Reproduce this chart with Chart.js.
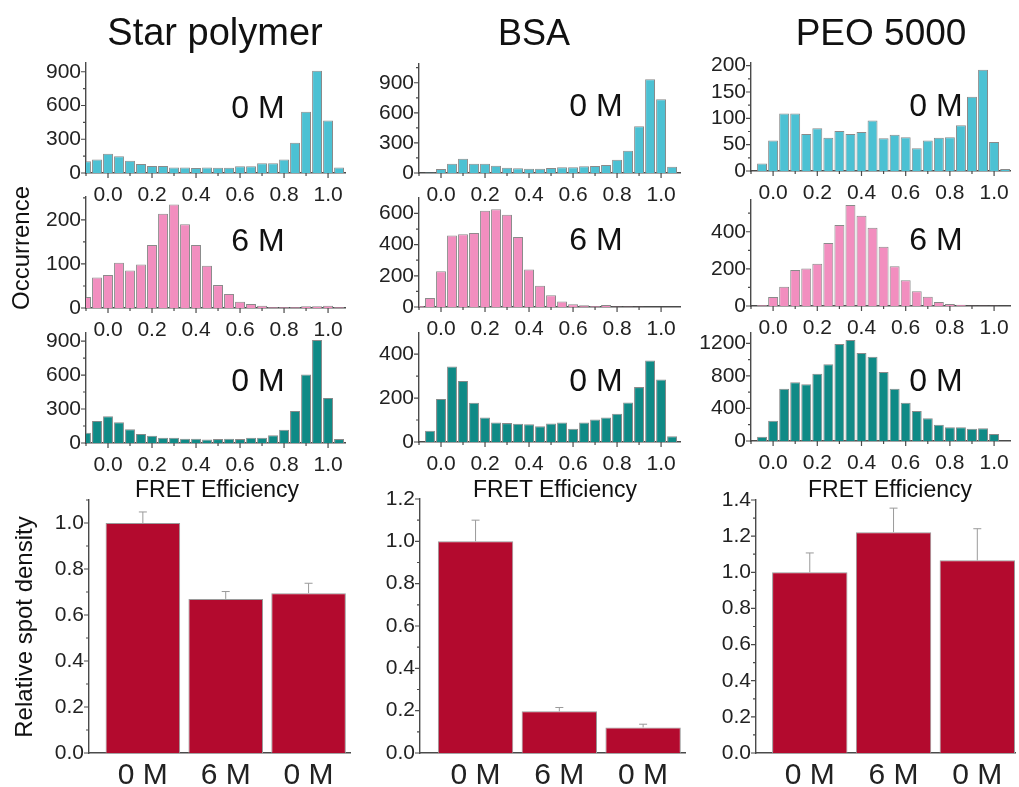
<!DOCTYPE html>
<html><head><meta charset="utf-8">
<script src="https://cdn.jsdelivr.net/npm/chart.js@4.4.1/dist/chart.umd.min.js"></script>
<style>
body{margin:0;background:#fff;width:1019px;height:787px;position:relative;overflow:hidden;font-family:'Liberation Sans',Arial,sans-serif;}
canvas{position:absolute;}
.t{position:absolute;white-space:nowrap;color:#111;z-index:2;}
</style></head><body>
<script>
// histogram bins (FRET efficiency, bin centres)
const fretBins = [-0.1, -0.05, 0.0, 0.05, 0.1, 0.15, 0.2, 0.25, 0.3, 0.35, 0.4, 0.45, 0.5, 0.55, 0.6, 0.65, 0.7, 0.75, 0.8, 0.85, 0.9, 0.95, 1.0, 1.05];
const fretTicks = [0.0, 0.2, 0.4, 0.6, 0.8, 1.0];

// Star polymer
const star0M     = [105, 120, 172, 150, 110, 80, 62, 62, 50, 50, 45, 50, 47, 47, 60, 60, 86, 86, 120, 270, 545, 910, 466, 50];
const star6M     = [25, 69, 75, 103, 85, 99, 143, 214, 235, 190, 143, 96, 52, 32, 14, 9, 5, 2, 2, 2, 4, 4, 5, 2];
const starBack0M = [91, 195, 236, 183, 121, 80, 65, 47, 47, 38, 38, 30, 35, 38, 35, 47, 47, 68, 118, 283, 605, 909, 398, 35];
// BSA
const bsa0M      = [0, 5, 40, 93, 143, 93, 93, 73, 53, 47, 43, 43, 50, 57, 57, 67, 70, 80, 133, 223, 466, 936, 736, 63];
const bsa6M      = [7, 58, 229, 458, 467, 475, 618, 627, 591, 449, 240, 137, 75, 36, 17, 11, 6, 13, 4, 4, 2, 0, 0, 0];
const bsaBack0M  = [0, 51, 196, 344, 278, 179, 111, 89, 86, 83, 81, 72, 84, 89, 60, 89, 102, 111, 129, 180, 250, 371, 284, 26];
// PEO 5000
const peo0M      = [0, 14, 58, 109, 109, 70, 81, 63, 76, 70, 74, 96, 62, 69, 64, 43, 58, 63, 64, 87, 141, 192, 55, 4];
const peo6M      = [0, 5, 49, 104, 194, 202, 227, 340, 437, 544, 486, 421, 319, 214, 139, 79, 50, 22, 11, 7, 2, 2, 2, 0];
const peoBack0M  = [0, 53, 250, 643, 721, 696, 827, 942, 1192, 1241, 1081, 1036, 848, 643, 471, 369, 278, 201, 168, 168, 152, 156, 86, 0];

// occurrence tick labels
const starTopTicks = [0, 300, 600, 900];
const starMidTicks = [0, 100, 200];
const starBotTicks = [0, 300, 600, 900];
const bsaTopTicks  = [0, 300, 600, 900];
const bsaMidTicks  = [0, 200, 400, 600];
const bsaBotTicks  = [0, 200, 400];
const peoTopTicks  = [0, 50, 100, 150, 200];
const peoMidTicks  = [0, 200, 400];
const peoBotTicks  = [0, 400, 800, 1200];

// relative spot density
const conditions  = ['0 M', '6 M', '0 M'];
const condPos     = [1, 2, 3];
const starDensity = [1.0, 0.67, 0.695];
const starErr     = [0.048, 0.032, 0.043];
const bsaDensity  = [1.0, 0.197, 0.121];
const bsaErr      = [0.1, 0.018, 0.015];
const peoDensity  = [1.0, 1.222, 1.066];
const peoErr      = [0.107, 0.133, 0.175];
const starDensTicks = [0, 0.2, 0.4, 0.6, 0.8, 1.0];
const bsaDensTicks  = [0, 0.2, 0.4, 0.6, 0.8, 1.0, 1.2];
const peoDensTicks  = [0, 0.2, 0.4, 0.6, 0.8, 1.0, 1.2, 1.4];

const CYAN = '#4cc1d3', PINK = '#f28ebf', TEAL = '#0f8a86', RED = '#b30a2e';
const AXIS = '#4a4a4a';
const YW = 62, PT = 14, PR = 10, TICKFONT = 21;
Chart.defaults.font.family = "'Liberation Sans', Arial, sans-serif";
Chart.defaults.color = '#222';

function minorsOf(t, min, max) {
  const step = t[1] - t[0], out = [];
  for (let v = t[0] - step / 2; v <= max + 1e-9; v += step) if (v >= min - 1e-9) out.push(v);
  return out;
}

function tickMarks(p) {
  return {
    id: 'tickMarks',
    afterDraw(chart) {
      const c = chart.ctx, xs = chart.scales.x, ys = chart.scales.y, a = chart.chartArea;
      c.save();
      c.strokeStyle = AXIS; c.lineWidth = 1.2;
      c.beginPath();
      if (p.xMarks) {
        p.xTicks.forEach(v => { const px = xs.getPixelForValue(v); c.moveTo(px, a.bottom); c.lineTo(px, a.bottom + 5); });
        minorsOf(p.xTicks, p.xMin, p.xMax).forEach(v => { const px = xs.getPixelForValue(v); c.moveTo(px, a.bottom); c.lineTo(px, a.bottom + 3); });
      }
      p.yTicks.forEach(v => { const py = ys.getPixelForValue(v); c.moveTo(a.left, py); c.lineTo(a.left - 5, py); });
      minorsOf(p.yTicks, 0, p.yMax).forEach(v => { const py = ys.getPixelForValue(v); c.moveTo(a.left, py); c.lineTo(a.left - 3, py); });
      c.stroke();
      c.restore();
    }
  };
}

function errorBars(p) {
  return {
    id: 'errorBars',
    afterDatasetsDraw(chart) {
      if (!p.err) return;
      const c = chart.ctx, ys = chart.scales.y;
      const meta = chart.getDatasetMeta(0);
      c.save(); c.strokeStyle = '#9a9a9a'; c.lineWidth = 1;
      meta.data.forEach((el, i) => {
        const top = ys.getPixelForValue(p.y[i] + p.err[i]);
        c.beginPath();
        c.moveTo(el.x, el.y); c.lineTo(el.x, top);
        c.moveTo(el.x - 4, top); c.lineTo(el.x + 4, top);
        c.stroke();
      });
      c.restore();
    }
  };
}

function makeChart(p) {
  const cv = document.createElement('canvas');
  const w = p.R - p.L + YW + PR, h = p.B - p.T + PT + p.xh;
  cv.width = w; cv.height = h;
  cv.style.left = (p.L - YW) + 'px'; cv.style.top = (p.T - PT) + 'px';
  document.body.appendChild(cv);
  new Chart(cv, {
    type: 'bar',
    data: {
      datasets: [{
        data: p.x.map((x, i) => ({ x: x, y: p.y[i] })),
        backgroundColor: p.color,
        borderColor: p.edge,
        borderWidth: 1,
        borderSkipped: 'bottom',
        barPercentage: p.bp,
        categoryPercentage: 1,
        clip: 0
      }]
    },
    options: {
      responsive: false, animation: false, events: [],
      layout: { padding: { top: PT, right: PR, left: 0, bottom: 0 } },
      plugins: { legend: { display: false }, tooltip: { enabled: false } },
      scales: {
        x: {
          type: 'linear', min: p.xMin, max: p.xMax, offset: false,
          grid: { display: false, drawTicks: false, offset: false },
          border: { color: AXIS, width: 1.4 },
          ticks: {
            autoSkip: false, maxRotation: 0, padding: p.xPad,
            font: { size: p.xFont }, color: '#222',
            callback: p.xLabel
          },
          afterBuildTicks: ax => { ax.ticks = p.xTicks.map(v => ({ value: v })); },
          afterFit: s => { s.height = p.xh; s.paddingLeft = 0; s.paddingRight = 0; }
        },
        y: {
          min: 0, max: p.yMax,
          grid: { display: false, drawTicks: false },
          border: { color: AXIS, width: 1.4 },
          ticks: {
            autoSkip: false, padding: 5, font: { size: TICKFONT }, color: '#222',
            callback: p.yLabel
          },
          afterBuildTicks: ax => { ax.ticks = p.yTicks.map(v => ({ value: v })); },
          afterFit: s => { s.width = YW; s.paddingTop = 0; s.paddingBottom = 0; }
        }
      }
    },
    plugins: [tickMarks(p), errorBars(p)]
  });
}

const fmt1 = v => Number(v).toFixed(1);
const fmt0 = v => String(v);

function hist(L, T, R, B, xMax, yMax, vals, ticks, color) {
  makeChart({
    L, T, R, B, xh: 40, x: fretBins, y: vals, color, edge: '#8a8a8a', bp: 0.9,
    xMin: -0.1, xMax, xTicks: fretTicks, xMarks: true, xPad: 10, xFont: TICKFONT, xLabel: fmt1,
    yMax, yTicks: ticks, yLabel: fmt0
  });
}
function density(L, T, R, B, xMin, xMax, yMax, vals, err, ticks) {
  makeChart({
    L, T, R, B, xh: 45, x: condPos, y: vals, err, color: RED, edge: '#9a9a9a', bp: 0.9,
    xMin, xMax, xTicks: condPos, xMarks: false, xPad: 5, xFont: 30,
    xLabel: (v, i) => conditions[i],
    yMax, yTicks: ticks, yLabel: fmt1
  });
}

hist(86, 63, 345, 173, 1.077, 978, star0M, starTopTicks, CYAN);
hist(86, 197, 345, 308, 1.077, 252, star6M, starMidTicks, PINK);
hist(86, 333, 345, 443, 1.077, 971, starBack0M, starBotTicks, TEAL);
hist(419, 64, 680, 173, 1.086, 1087, bsa0M, bsaTopTicks, CYAN);
hist(419, 198, 680, 307, 1.086, 699, bsa6M, bsaMidTicks, PINK);
hist(419, 333, 680, 442, 1.086, 496, bsaBack0M, bsaBotTicks, TEAL);
hist(751, 63, 1010, 171, 1.072, 205, peo0M, peoTopTicks, CYAN);
hist(751, 200, 1010, 306, 1.072, 571, peo6M, peoMidTicks, PINK);
hist(751, 333, 1010, 441, 1.072, 1327, peoBack0M, peoBotTicks, TEAL);

density(89, 500, 350, 753, 0.35, 3.5, 1.1, starDensity, starErr, starDensTicks);
density(420, 499, 685, 753, 0.337, 3.5, 1.2, bsaDensity, bsaErr, bsaDensTicks);
density(756, 500, 1015, 753, 0.358, 3.45, 1.4, peoDensity, peoErr, peoDensTicks);

// text
function text(str, cx, base, fs, rot) {
  const d = document.createElement('div');
  d.className = 't'; d.textContent = str;
  d.style.fontSize = fs + 'px'; d.style.lineHeight = fs + 'px';
  d.style.left = cx + 'px';
  if (rot) { d.style.top = base + 'px'; d.style.transform = 'translate(-50%,-50%) rotate(-90deg)'; }
  else { d.style.top = (base - 0.8465 * fs) + 'px'; d.style.transform = 'translateX(-50%)'; }
  document.body.appendChild(d);
}
text('Star polymer', 215, 45, 38);
text('BSA', 534, 45, 36);
text('PEO 5000', 881, 45, 37);
text('0 M', 258, 118, 32); text('6 M', 258, 251, 32); text('0 M', 258, 391, 32);
text('0 M', 596, 116, 32); text('6 M', 596, 250, 32); text('0 M', 596, 391, 32);
text('0 M', 936, 116, 32); text('6 M', 936, 250, 32); text('0 M', 936, 391, 32);
text('FRET Efficiency', 217, 497, 23);
text('FRET Efficiency', 555, 497, 23);
text('FRET Efficiency', 890, 497, 23);
text('Occurrence', 21, 248, 24, true);
text('Relative spot density', 24, 627, 24, true);
</script>
</body></html>
